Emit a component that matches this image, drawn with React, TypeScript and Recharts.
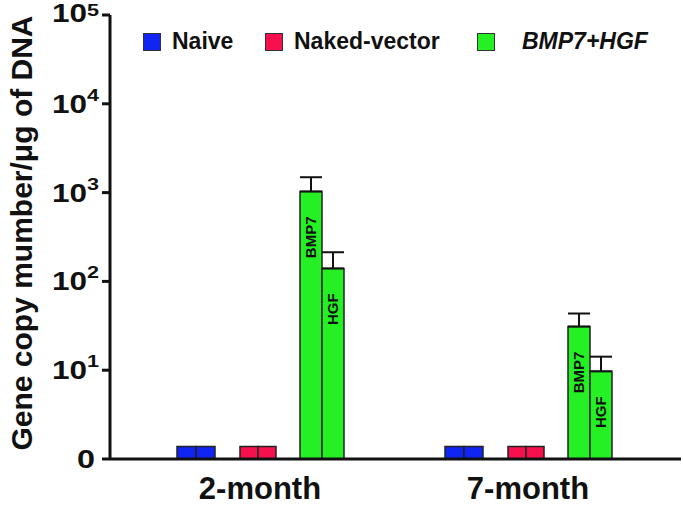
import { BarChart, Bar, XAxis, YAxis, ErrorBar, LabelList, Legend } from 'recharts';

const months = ['2-month', '7-month'];
const naive = [1.38, 1.38];
const naked = [1.38, 1.38];
const bmp7 = [1030, 31];
const hgf = [140, 9.7];
const bmp7Err = [460, 12.5];
const hgfErr = [73, 4.5];
const yTicks = [1, 10, 100, 1000, 10000, 100000];

const chartData = months.map((m, i) => ({
  month: m,
  naive1: naive[i],
  naive2: naive[i],
  naked1: naked[i],
  naked2: naked[i],
  bmp7: bmp7[i],
  hgf: hgf[i],
  bmp7Err: [0, bmp7Err[i]],
  hgfErr: [0, hgfErr[i]],
}));

const font = '"Liberation Sans", Arial, sans-serif';
const BLUE = '#1024f2';
const RED = '#f7104e';
const GREEN = '#24f024';
const EDGE = '#222';

function YTick(props: any) {
  const { x, y, payload } = props;
  const exp = Math.round(Math.log10(payload.value));
  if (exp === 0) {
    return (
      <text x={x - 5} y={y + 9} textAnchor="end" fontSize={25} fontWeight="bold" fontFamily={font} fill="#111"
        textLength={18} lengthAdjust="spacingAndGlyphs">0</text>
    );
  }
  // the top label sits a little lower in the original so it is not clipped
  const base = exp === 5 ? y + 7 : y + 9;
  const sup = exp === 5 ? -6 : -12;
  return (
    <text x={x - 1} y={base} textAnchor="end" fontWeight="bold" fontFamily={font} fill="#111">
      <tspan fontSize={25} textLength={35} lengthAdjust="spacingAndGlyphs">10</tspan>
      <tspan fontSize={16} dy={sup} textLength={12} lengthAdjust="spacingAndGlyphs">{exp}</tspan>
    </text>
  );
}

function XTick(props: any) {
  const { x, y, payload } = props;
  return (
    <text x={x} y={y + 32} textAnchor="middle" fontSize={31} fontWeight="bold" fontFamily={font} fill="#111">
      {payload.value}
    </text>
  );
}

function YTitle(props: any) {
  const { viewBox } = props;
  const cy = viewBox.y + viewBox.height / 2 - 4;
  return (
    <text x={21} y={cy} transform={`rotate(-90, 21, ${cy})`} textAnchor="middle" dominantBaseline="central"
      fontSize={30} fontWeight="bold" fontFamily={font} fill="#111">
      Gene copy mumber/{'\u03bc'}g of DNA
    </text>
  );
}

const barLabel = (text: string) => (props: any) => {
  const { x, y, width } = props;
  const cx = x + width / 2;
  const ty = y + 25;
  return (
    <text x={cx} y={ty} transform={`rotate(-90, ${cx}, ${ty})`} textAnchor="end" dominantBaseline="central"
      fontSize={15} fontWeight="bold" fontFamily={font} fill="#111">
      {text}
    </text>
  );
};

function LegendBox() {
  const sq = (left: number, color: string) => (
    <div style={{ position: 'absolute', left, top: 33, width: 16, height: 16, background: color, border: '1.5px solid #333' }} />
  );
  const txt = (left: number, label: string, italic = false) => (
    <div style={{ position: 'absolute', left, top: 27, fontSize: 23, fontWeight: 'bold', fontStyle: italic ? 'italic' : 'normal', fontFamily: font, color: '#111', whiteSpace: 'nowrap', lineHeight: '28px' }}>
      {label}
    </div>
  );
  return (
    <div style={{ position: 'relative', width: 683, height: 60 }}>
      {sq(143, BLUE)}
      {txt(172, 'Naive')}
      {sq(265, RED)}
      {txt(294, 'Naked-vector')}
      {sq(477, GREEN)}
      {txt(522, 'BMP7+HGF', true)}
    </div>
  );
}

export default function App() {
  return (
    <div style={{ position: 'absolute', left: 0, top: 0, width: 683, height: 508, background: '#fff' }}>
      <BarChart width={683} height={508} data={chartData} barGap={0}
        margin={{ top: 15, right: 2, bottom: 0, left: 10 }}>
        <XAxis dataKey="month" height={49} axisLine={{ stroke: '#111', strokeWidth: 3 }} tickLine={false}
          tick={<XTick />} padding={{ left: 16, right: 19 }} />
        <YAxis scale="log" domain={[1, 100000]} ticks={yTicks} allowDataOverflow width={100}
          axisLine={{ stroke: '#111', strokeWidth: 3 }} tickLine={{ stroke: '#111', strokeWidth: 3 }} tickSize={8}
          tick={<YTick />} label={<YTitle />} />
        <Legend verticalAlign="middle" align="center" content={<LegendBox />}
          wrapperStyle={{ top: 0, left: 0, width: 683, height: 60 }} />
        <Bar dataKey="naive1" barSize={19} fill={BLUE} stroke={EDGE} strokeWidth={1.5} isAnimationActive={false} />
        <Bar dataKey="naive2" barSize={19} fill={BLUE} stroke={EDGE} strokeWidth={1.5} isAnimationActive={false} />
        <Bar dataKey="gapA" barSize={25} fill="none" isAnimationActive={false} />
        <Bar dataKey="naked1" barSize={18} fill={RED} stroke={EDGE} strokeWidth={1.5} isAnimationActive={false} />
        <Bar dataKey="naked2" barSize={18} fill={RED} stroke={EDGE} strokeWidth={1.5} isAnimationActive={false} />
        <Bar dataKey="gapB" barSize={24} fill="none" isAnimationActive={false} />
        <Bar dataKey="bmp7" barSize={22} fill={GREEN} stroke={EDGE} strokeWidth={1.5} isAnimationActive={false}>
          <ErrorBar dataKey="bmp7Err" direction="y" width={11} stroke="#111" strokeWidth={2} />
          <LabelList dataKey="bmp7" content={barLabel('BMP7')} />
        </Bar>
        <Bar dataKey="hgf" barSize={22} fill={GREEN} stroke={EDGE} strokeWidth={1.5} isAnimationActive={false}>
          <ErrorBar dataKey="hgfErr" direction="y" width={11} stroke="#111" strokeWidth={2} />
          <LabelList dataKey="hgf" content={barLabel('HGF')} />
        </Bar>
      </BarChart>
    </div>
  );
}
